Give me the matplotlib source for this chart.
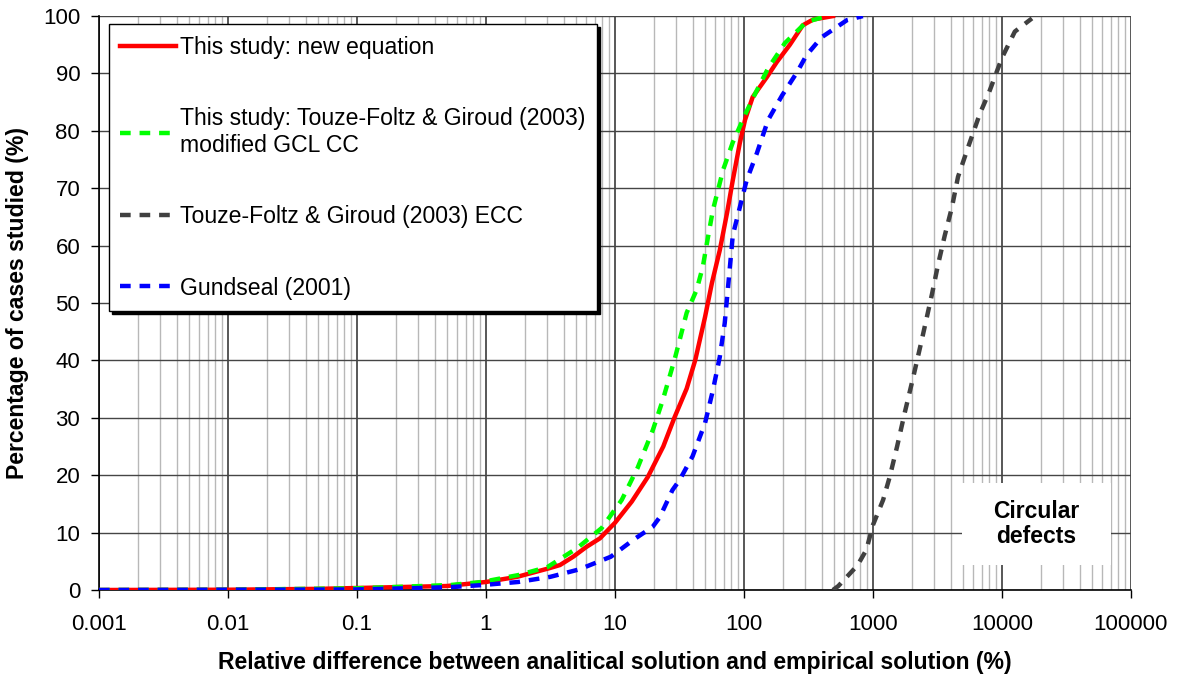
import matplotlib.pyplot as plt
from matplotlib.patches import Rectangle
from matplotlib.ticker import FixedLocator, FixedFormatter, LogLocator, NullFormatter

plt.rcParams['font.family'] = ['Liberation Sans', 'DejaVu Sans']

# cumulative distributions: relative difference (%) vs percentage of cases
new_x = [0.001, 0.01, 0.05, 0.1, 0.2, 0.5, 1, 1.75, 3.1, 3.75, 4.75, 6, 7.65, 10, 13.5,
         18, 23.7, 29, 36, 42, 50, 56.5, 65, 74, 82, 93, 102, 117, 151, 180, 227, 286,
         344, 490]
new_y = [0, 0.05, 0.2, 0.35, 0.5, 0.7, 1.4, 2.3, 3.8, 4.35, 5.8, 7.5, 9.0, 11.7, 15.4,
         19.7, 25.0, 30.1, 35.1, 40.1, 47.6, 53.5, 59.2, 65.7, 71.4, 77.9, 81.9, 85.9,
         89.4, 92.0, 95.0, 98.4, 99.4, 100]

gcl_x = [0.001, 0.01, 0.1, 0.53, 0.93, 1.78, 3.0, 5.1, 7.9, 11.3, 15, 19.7, 23.5, 29.2,
         36, 43, 48, 52.5, 57.5, 69, 82, 102, 123, 154, 208, 306, 440]
gcl_y = [0, 0.05, 0.3, 0.87, 1.4, 2.6, 4.0, 7.3, 10.8, 15.7, 21.3, 27.9, 33.1, 40.4,
         48.3, 52.3, 56.3, 61.3, 66.2, 73.2, 78.0, 82.8, 86.6, 90.9, 95.3, 99.0, 100]

ecc_x = [490, 540, 760, 890, 1000, 1200, 1350, 1540, 1770, 2050, 2400, 2880, 3200,
         3600, 4100, 4570, 5500, 6750, 7950, 10000, 12600, 17100]
ecc_y = [0, 0.7, 4.3, 7.0, 11.3, 15.7, 19.7, 25.0, 31.0, 37.0, 43.7, 51.7, 56.7,
         61.7, 66.7, 72.0, 77.3, 83.0, 86.7, 92.7, 97.3, 99.6]

gund_x = [0.001, 0.01, 0.1, 0.3, 0.53, 0.95, 1.78, 3.16, 5.3, 9.3, 14, 19.6, 22.3,
          27.9, 31.8, 40, 50, 57.5, 65, 71, 75, 79, 82, 93, 105, 126, 154, 198, 258,
          306, 400, 630, 836]
gund_y = [0, 0.05, 0.1, 0.35, 0.5, 0.87, 1.4, 2.3, 3.6, 5.8, 8.8, 11.0, 12.7,
          17.4, 19.2, 23.3, 29.1, 34.8, 40.6, 46.5, 52.3, 57.8, 61.8, 66.7, 71.4,
          76.1, 81.9, 86.2, 90.2, 93.2, 96.3, 99.3, 100]

x_ticks = [0.001, 0.01, 0.1, 1, 10, 100, 1000, 10000, 100000]
x_tick_labels = ['0.001', '0.01', '0.1', '1', '10', '100', '1000', '10000', '100000']
y_ticks = list(range(0, 101, 10))

fig = plt.figure(figsize=(11.78, 6.76), dpi=100)
ax = fig.add_axes([0.084, 0.1272, 0.876, 0.849])

lw = 3.2
dash = (2.4, 2.0)
ax.plot(new_x, new_y, color='#ff0000', lw=lw, label='This study: new equation', zorder=3)
ax.plot(gcl_x, gcl_y, color='#00ff00', lw=lw, dashes=dash, zorder=4,
        label='This study: Touze-Foltz & Giroud (2003)\nmodified GCL CC')
ax.plot(ecc_x, ecc_y, color='#404040', lw=lw, dashes=dash, zorder=5,
        label='Touze-Foltz & Giroud (2003) ECC')
ax.plot(gund_x, gund_y, color='#0000ff', lw=lw, dashes=dash, zorder=6,
        label='Gundseal (2001)')

ax.set_xscale('log')
ax.set_xlim(0.001, 100000)
ax.set_ylim(0, 100)
ax.xaxis.set_major_locator(FixedLocator(x_ticks))
ax.xaxis.set_major_formatter(FixedFormatter(x_tick_labels))
ax.xaxis.set_minor_locator(LogLocator(base=10, subs=range(2, 10), numticks=50))
ax.xaxis.set_minor_formatter(NullFormatter())
ax.set_yticks(y_ticks)

ax.grid(which='minor', axis='x', color='#b8b8b8', lw=1.0, zorder=0)
ax.grid(which='major', axis='x', color='#2a2a2a', lw=1.1, zorder=0)
ax.grid(which='major', axis='y', color='#454545', lw=1.0, zorder=0)
ax.set_axisbelow(True)

ax.tick_params(axis='both', which='major', labelsize=16, direction='out',
               length=5.5, width=1, color='black')
ax.tick_params(axis='x', which='major', pad=12)
ax.tick_params(axis='y', which='major', pad=8)
ax.tick_params(axis='x', which='minor', length=0)
for side in ('top', 'right'):
    ax.spines[side].set_visible(False)
for side in ('left', 'bottom'):
    ax.spines[side].set_color('black')
    ax.spines[side].set_linewidth(1.2)

ax.set_xlabel('Relative difference between analitical solution and empirical solution (%)',
              fontsize=16.6, fontweight='bold', labelpad=11)
ax.set_ylabel('Percentage of cases studied (%)', fontsize=16.6, fontweight='bold',
              labelpad=10)

# label box for the circular-defect case
ax.add_patch(Rectangle((0.836, 0.044), 0.145, 0.142, transform=ax.transAxes,
                       facecolor='white', edgecolor='none', zorder=1))
ax.text(0.9085, 0.115, 'Circular\ndefects', transform=ax.transAxes, ha='center',
        va='center', fontsize=16.5, fontweight='bold', linespacing=1.15, zorder=2)

leg = ax.legend(loc='upper left', bbox_to_anchor=(0.0097, 0.986), borderaxespad=0,
                fontsize=16.6, fancybox=False, shadow={'color': 'black', 'alpha': 1},
                framealpha=1, edgecolor='black', handlelength=2.4, handletextpad=0.2,
                borderpad=0.5, labelspacing=2.1)
leg.get_frame().set_linewidth(1.0)
leg.set_zorder(10)

fig.savefig('out.png', dpi=100)
